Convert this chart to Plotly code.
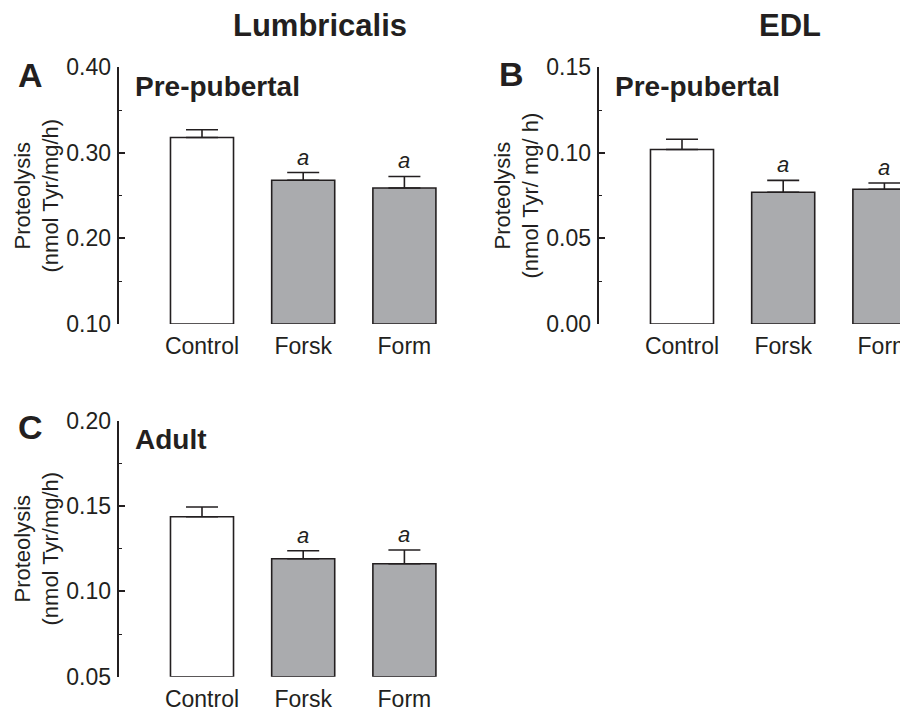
import plotly.graph_objects as go

# ---------------- data ----------------
categories = ["Control", "Forsk", "Form"]
lumb_pre_mean = [0.318, 0.268, 0.259]
lumb_pre_sem = [0.009, 0.009, 0.0134]
edl_pre_mean = [0.102, 0.077, 0.0787]
edl_pre_sem = [0.006, 0.0069, 0.0037]
lumb_adult_mean = [0.1437, 0.1191, 0.1162]
lumb_adult_sem = [0.0057, 0.0047, 0.008]
sig_labels = ["", "a", "a"]
bar_colors = ["#FFFFFF", "#AAABAE", "#AAABAE"]

# page body has an 8px margin; figure is sized so it ends at the window edge
OFF = 8
W, H = 900, 699
FONT = "Liberation Sans, Arial, Helvetica, sans-serif"
INK = "#231F20"


def px(x):
    return (x - OFF) / W


def py(y):
    return 1 - (y - OFF) / H


fig = go.Figure()

panels = [
    # mean, sem, xaxis, yaxis, x-domain px, y-domain px, y range, dtick
    (lumb_pre_mean, lumb_pre_sem, "x", "y", (118.5, 460), (67.3, 324), (0.10, 0.40), 0.10),
    (edl_pre_mean, edl_pre_sem, "x2", "y2", (598.5, 908), (67.3, 324), (0.0, 0.15), 0.05),
    (lumb_adult_mean, lumb_adult_sem, "x3", "y3", (118.5, 460), (420.7, 676.7), (0.05, 0.20), 0.05),
]

spacing = 101.2  # px per category
first_center_offset = 83.5  # px from y-axis line to first bar centre

for i, (mean, sem, xa, ya, xd, yd, yr, dt) in enumerate(panels):
    base = yr[0]
    fig.add_trace(go.Bar(
        x=categories,
        y=[m - base for m in mean],
        base=base,
        xaxis=xa, yaxis=ya,
        width=0.623,
        marker=dict(color=bar_colors, line=dict(color=INK, width=1.6)),
        error_y=dict(type="data", symmetric=False, array=sem,
                     arrayminus=[0] * len(sem), color=INK, thickness=1.6, width=16),
        showlegend=False,
        hoverinfo="skip",
    ))
    left = -first_center_offset / spacing
    right = (xd[1] - xd[0] - first_center_offset) / spacing
    suffix = "" if i == 0 else str(i + 1)
    fig.layout["xaxis" + suffix] = dict(
        domain=[px(xd[0]), min(1.0, px(xd[1]))],
        range=[left, right],
        anchor=ya,
        automargin=False,
        showline=False, showgrid=False, zeroline=False, ticks="",
        tickfont=dict(family=FONT, size=23, color=INK),
        ticklabelstandoff=6,
    )
    fig.layout["yaxis" + suffix] = dict(
        domain=[py(yd[1]), py(yd[0])],
        range=list(yr),
        anchor=xa,
        automargin=False,
        dtick=dt, tick0=0, tickformat=".2f",
        showline=True, linecolor=INK, linewidth=1.6,
        ticks="inside", ticklen=7, tickwidth=1.6, tickcolor=INK,
        minor=dict(ticks="inside", ticklen=4, tickwidth=1.4, tickcolor=INK, dtick=dt / 2),
        showgrid=False, zeroline=False,
        tickfont=dict(family=FONT, size=23, color=INK),
        ticklabelstandoff=1,
    )
    for c, m, s, lab in zip(categories, mean, sem, sig_labels):
        if lab:
            fig.add_annotation(x=c, y=m + s, xref=xa, yref=ya, text="<i>%s</i>" % lab,
                               showarrow=False, yanchor="bottom", yshift=1,
                               font=dict(family=FONT, size=22, color=INK))

# text annotations
def txt(x, y, t, size, xanchor="center", angle=0):
    fig.add_annotation(x=px(x), y=py(y), xref="paper", yref="paper", text=t,
                       showarrow=False, xanchor=xanchor, yanchor="middle", textangle=angle,
                       font=dict(family=FONT, size=size, color=INK))

txt(320, 26, "<b>Lumbricalis</b>", 31)
txt(790, 26, "<b>EDL</b>", 31)
txt(30.5, 75, "<b>A</b>", 34)
txt(511, 74, "<b>B</b>", 34)
txt(30.5, 427, "<b>C</b>", 34)
txt(133, 86, "<b>Pre-pubertal</b>", 28, xanchor="left")
txt(613, 86, "<b>Pre-pubertal</b>", 28, xanchor="left")
txt(133, 439, "<b>Adult</b>", 28, xanchor="left")
txt(36, 195.5, "Proteolysis<br>(nmol Tyr/mg/h)", 22, angle=-90)
txt(516, 195.5, "Proteolysis<br>(nmol Tyr/ mg/ h)", 22, angle=-90)
txt(36, 548.5, "Proteolysis<br>(nmol Tyr/mg/h)", 22, angle=-90)

fig.update_layout(
    width=W, height=H,
    margin=dict(l=0, r=0, t=0, b=0, autoexpand=False),
    paper_bgcolor="white", plot_bgcolor="white",
    bargap=0.377,
    font=dict(family=FONT, color=INK),
)

fig.write_html("out.html")
